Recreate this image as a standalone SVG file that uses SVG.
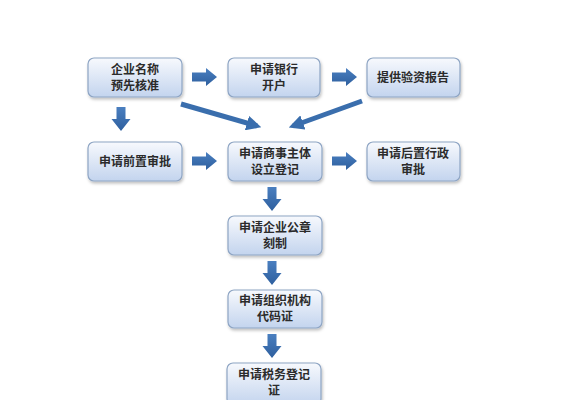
<svg xmlns="http://www.w3.org/2000/svg" width="576" height="400" viewBox="0 0 576 400">
<defs>
<linearGradient id="bg" x1="0" y1="0" x2="0" y2="1">
<stop offset="0" stop-color="#f7f9fd"/>
<stop offset="1" stop-color="#c3d4ee"/>
</linearGradient>
<linearGradient id="ag" x1="0" y1="0" x2="0" y2="1">
<stop offset="0" stop-color="#4a7fc0"/>
<stop offset="1" stop-color="#2e5f9e"/>
</linearGradient>
<filter id="sh" x="-10%" y="-10%" width="130%" height="140%">
<feDropShadow dx="1" dy="2" stdDeviation="1.5" flood-color="#000" flood-opacity="0.25"/>
</filter>
<marker id="ah" viewBox="0 0 10 10" refX="7" refY="5" markerWidth="3" markerHeight="3" orient="auto" markerUnits="strokeWidth">
<path d="M0,0 L10,5 L0,10 z" fill="#3a6ead"/>
</marker>
<path id="ar" d="M0,-4.5 H14 V-9 L25,0 L14,9 V4.5 H0 z"/>
<path id="ad" d="M-4.5,0 V12 H-9.5 L0,24 L9.5,12 H4.5 V0 z"/>
</defs>
<style>
.box{fill:url(#bg);stroke:#8ea5c4;stroke-width:1.2;filter:url(#sh)}
.t{font-family:"Noto Sans CJK SC","Noto Sans",sans-serif;font-size:12px;font-weight:bold;fill:#2b2b2b;text-anchor:middle}
.a{fill:url(#ag)}
.d{stroke:#3a6ead;stroke-width:5;fill:none;marker-end:url(#ah)}
</style>
<rect width="576" height="400" fill="#ffffff"/>
<g id="connectors">
<use href="#ar" class="a" x="192" y="77"/>
<use href="#ar" class="a" x="332" y="77"/>
<use href="#ar" class="a" x="192" y="161"/>
<use href="#ar" class="a" x="332" y="161"/>
<use href="#ad" class="a" x="121" y="107"/>
<use href="#ad" class="a" x="272" y="187"/>
<use href="#ad" class="a" x="272" y="261"/>
<use href="#ad" class="a" x="272" y="334"/>
<line class="d" x1="181" y1="104" x2="257" y2="126"/>
<line class="d" x1="362" y1="101" x2="293" y2="126"/>
</g>
<g id="n1"><rect class="box" x="88" y="58" width="94" height="39" rx="6"/><text class="t" x="135" y="74">企业名称</text><text class="t" x="135" y="90">预先核准</text></g>
<g id="n2"><rect class="box" x="228" y="58" width="92" height="39" rx="6"/><text class="t" x="274" y="74">申请银行</text><text class="t" x="274" y="90">开户</text></g>
<g id="n3"><rect class="box" x="367" y="58" width="93" height="39" rx="6"/><text class="t" x="413" y="82">提供验资报告</text></g>
<g id="n4"><rect class="box" x="88" y="142" width="94" height="39" rx="6"/><text class="t" x="135" y="166">申请前置审批</text></g>
<g id="n5"><rect class="box" x="228" y="142" width="94" height="39" rx="6"/><text class="t" x="275" y="158">申请商事主体</text><text class="t" x="275" y="174">设立登记</text></g>
<g id="n6"><rect class="box" x="367" y="142" width="93" height="39" rx="6"/><text class="t" x="413" y="158">申请后置行政</text><text class="t" x="413" y="174">审批</text></g>
<g id="n7"><rect class="box" x="228" y="216" width="94" height="39" rx="6"/><text class="t" x="275" y="232">申请企业公章</text><text class="t" x="275" y="248">刻制</text></g>
<g id="n8"><rect class="box" x="228" y="290" width="94" height="38" rx="6"/><text class="t" x="275" y="305">申请组织机构</text><text class="t" x="275" y="321">代码证</text></g>
<g id="n9"><rect class="box" x="227" y="363" width="94" height="42" rx="6"/><text class="t" x="274" y="379">申请税务登记</text><text class="t" x="274" y="395">证</text></g>
</svg>
